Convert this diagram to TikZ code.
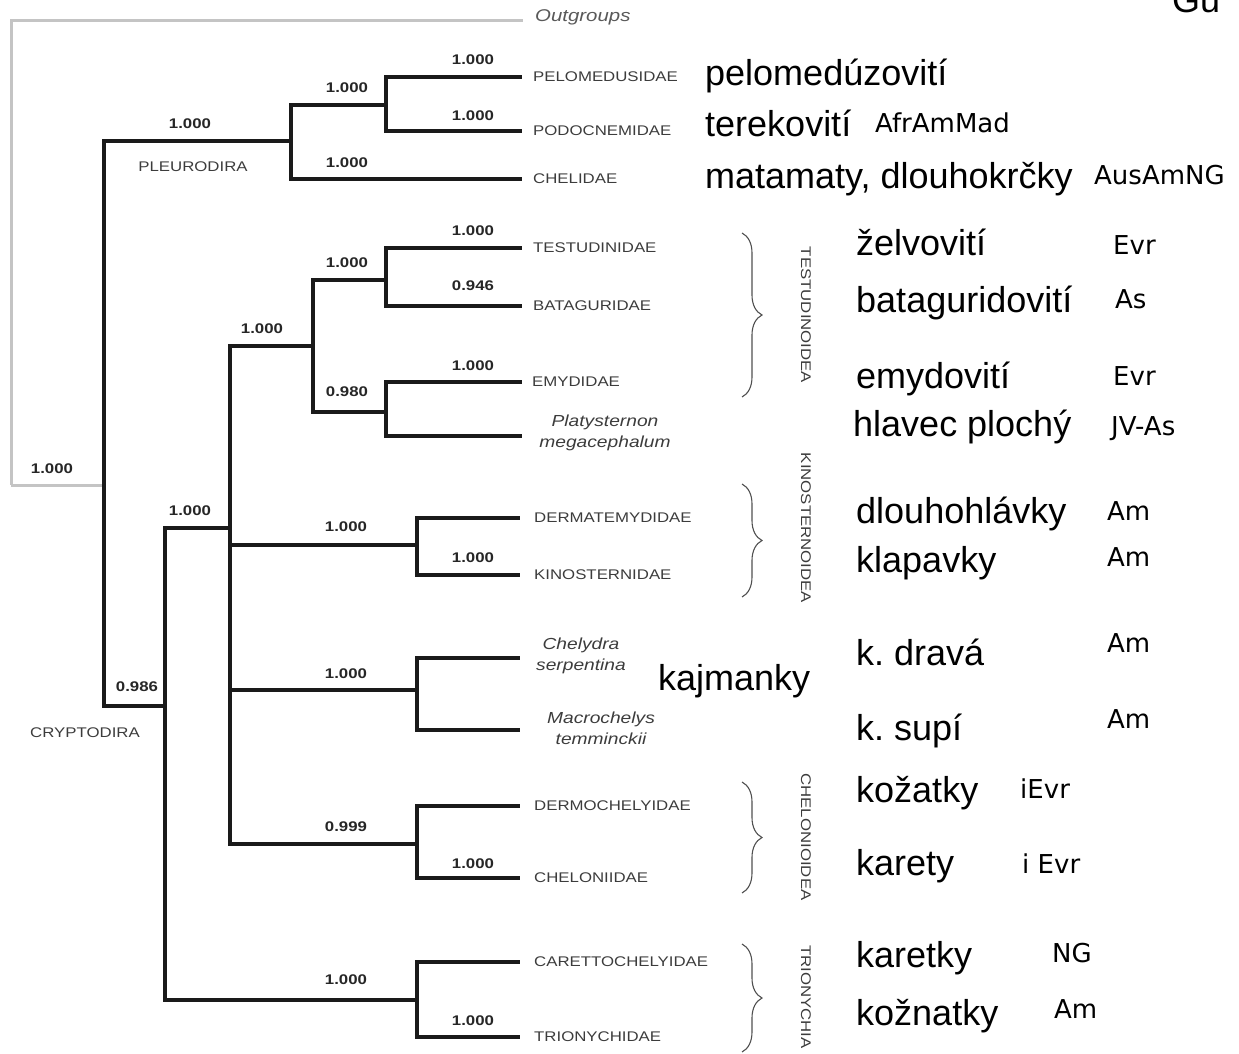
\documentclass[tikz,border=0pt]{standalone}
\usepackage{fontspec}
\setmainfont{Liberation Sans}
\newfontfamily\treefont[FakeStretch=1.2]{Liberation Sans}
\newfontfamily\regfont{DejaVu Sans}
\usetikzlibrary{decorations.pathreplacing}
\definecolor{lineblack}{HTML}{1A1A1A}
\definecolor{outgray}{HTML}{C4C4C4}
\definecolor{labgray}{HTML}{3C3C3C}
\definecolor{numgray}{HTML}{262626}
\definecolor{bracegray}{HTML}{505050}
\frenchspacing
\begin{document}
\begin{tikzpicture}[x=1pt,y=-1pt,
  edge/.style={line width=3.3pt, draw=lineblack, line join=miter},
  outedge/.style={line width=3pt, draw=outgray, line join=miter},
  leaf/.style={anchor=west, inner sep=0pt, font=\treefont\fontsize{14}{16}\selectfont, text=labgray},
  sp/.style={align=center, inner sep=0pt, font=\treefont\itshape\fontsize{16}{21}\selectfont, text=labgray},
  num/.style={inner sep=0pt, font=\treefont\bfseries\fontsize{14}{16}\selectfont, text=numgray},
  clade/.style={inner sep=0pt, font=\treefont\fontsize{14}{16}\selectfont, text=labgray},
  grp/.style={rotate=-90, inner sep=0pt, font=\treefont\fontsize{14}{16}\selectfont, text=labgray},
  cz/.style={anchor=base west, inner sep=0pt, font=\fontsize{36}{40}\selectfont, text=black},
  reg/.style={anchor=base west, inner sep=0pt, font=\regfont\fontsize{26}{29}\selectfont, text=black},
  brc/.style={decorate, decoration={brace, amplitude=20pt}, draw=bracegray, line width=1.1pt}
]
\useasboundingbox (0,0) rectangle (1239,1054);

% internal nodes
\coordinate (R0) at (11,485);
\coordinate (I) at (104,485);
\coordinate (Pl) at (291,141);
\coordinate (PP) at (386,105);
\coordinate (Cr) at (165,706);
\coordinate (C1) at (230,528);
\coordinate (Te) at (313,346);
\coordinate (TB) at (386,280);
\coordinate (EP) at (386,412);
\coordinate (Ki) at (417,545);
\coordinate (Cy) at (417,690);
\coordinate (Co) at (417,844);
\coordinate (Tr) at (417,1000);

% leaf ends
\coordinate (OG) at (523,21);
\coordinate (lPel) at (522,77);
\coordinate (lPod) at (522,131);
\coordinate (lChe) at (522,179);
\coordinate (lTes) at (522,248);
\coordinate (lBat) at (522,306);
\coordinate (lEmy) at (522,382);
\coordinate (lPla) at (522,436);
\coordinate (lDer) at (520,518);
\coordinate (lKin) at (520,575);
\coordinate (lChy) at (520,658);
\coordinate (lMac) at (520,730);
\coordinate (lDmc) at (520,806);
\coordinate (lChn) at (520,878);
\coordinate (lCar) at (520,962);
\coordinate (lTri) at (520,1037);

% outgroup (gray)
\draw[outedge] (R0) |- (OG);
\draw[outedge] (R0) -- (I);

% ingroup tree
\draw[edge] (I) |- (Pl);
\draw[edge] (I) |- (Cr);
\draw[edge] (Pl) |- (PP);
\draw[edge] (Pl) |- (lChe);
\draw[edge] (PP) |- (lPel);
\draw[edge] (PP) |- (lPod);
\draw[edge] (Cr) |- (C1);
\draw[edge] (Cr) |- (Tr);
\draw[edge] (C1) |- (Te);
\draw[edge] (C1) |- (Ki);
\draw[edge] (C1) |- (Cy);
\draw[edge] (C1) |- (Co);
\draw[edge] (Te) |- (TB);
\draw[edge] (Te) |- (EP);
\draw[edge] (TB) |- (lTes);
\draw[edge] (TB) |- (lBat);
\draw[edge] (EP) |- (lEmy);
\draw[edge] (EP) |- (lPla);
\draw[edge] (Ki) |- (lDer);
\draw[edge] (Ki) |- (lKin);
\draw[edge] (Cy) |- (lChy);
\draw[edge] (Cy) |- (lMac);
\draw[edge] (Co) |- (lDmc);
\draw[edge] (Co) |- (lChn);
\draw[edge] (Tr) |- (lCar);
\draw[edge] (Tr) |- (lTri);

% leaf labels
\node[leaf, font=\treefont\itshape\fontsize{17}{19}\selectfont, text=black!65] (tOG) at (535,17) {Outgroups};
\node[leaf] (tPel) at (533,77) {PELOMEDUSIDAE};
\node[leaf] (tPod) at (533,131) {PODOCNEMIDAE};
\node[leaf] (tChe) at (533,179) {CHELIDAE};
\node[leaf] (tTes) at (533,248) {TESTUDINIDAE};
\node[leaf] (tBat) at (533,306) {BATAGURIDAE};
\node[leaf] (tEmy) at (532,382) {EMYDIDAE};
\node[sp] (tPla) at (605,433) {Platysternon\\megacephalum};
\node[leaf] (tDer) at (534,518) {DERMATEMYDIDAE};
\node[leaf] (tKin) at (534,575) {KINOSTERNIDAE};
\node[sp] (tChy) at (581,656) {Chelydra\\serpentina};
\node[sp] (tMac) at (601,728) {Macrochelys\\temminckii};
\node[leaf] (tDmc) at (534,806) {DERMOCHELYIDAE};
\node[leaf] (tChn) at (534,878) {CHELONIIDAE};
\node[leaf] (tCar) at (534,962) {CARETTOCHELYIDAE};
\node[leaf] (tTri) at (534,1037) {TRIONYCHIDAE};

% clade names
\node[clade] (cPl) at (193,167) {PLEURODIRA};
\node[clade] (cCr) at (85,733) {CRYPTODIRA};

% support values
\node[num] (n1) at (52,469) {1.000};
\node[num] (n2) at (190,124) {1.000};
\node[num] (n3) at (347,88) {1.000};
\node[num] (n4) at (473,60) {1.000};
\node[num] (n5) at (473,116) {1.000};
\node[num] (n6) at (347,163) {1.000};
\node[num] (n7) at (137,687) {0.986};
\node[num] (n8) at (190,511) {1.000};
\node[num] (n9) at (346,980) {1.000};
\node[num] (n10) at (262,329) {1.000};
\node[num] (n11) at (346,527) {1.000};
\node[num] (n12) at (346,674) {1.000};
\node[num] (n13) at (346,827) {0.999};
\node[num] (n14) at (347,263) {1.000};
\node[num] (n15) at (347,392) {0.980};
\node[num] (n16) at (473,231) {1.000};
\node[num] (n17) at (473,286) {0.946};
\node[num] (n18) at (473,366) {1.000};
\node[num] (n19) at (473,558) {1.000};
\node[num] (n20) at (473,864) {1.000};
\node[num] (n21) at (473,1021) {1.000};

% braces and group names
\coordinate (b1t) at (742,233); \coordinate (b1b) at (742,397);
\coordinate (b2t) at (742,484); \coordinate (b2b) at (742,597);
\coordinate (b3t) at (742,782); \coordinate (b3b) at (742,893);
\coordinate (b4t) at (742,944); \coordinate (b4b) at (742,1052);
\draw[brc] (b1t) -- (b1b);
\draw[brc] (b2t) -- (b2b);
\draw[brc] (b3t) -- (b3b);
\draw[brc] (b4t) -- (b4b);
\node[grp] (g1) at (806,315) {TESTUDINOIDEA};
\node[grp] (g2) at (806,528) {KINOSTERNOIDEA};
\node[grp] (g3) at (806,837) {CHELONIOIDEA};
\node[grp] (g4) at (806,997) {TRIONYCHIA};

% Czech names
\node[cz] (z1) at (705,86) {pelomedúzovití};
\node[cz] (z2) at (705,136) {terekovití};
\node[cz] (z3) at (705,188) {matamaty, dlouhokrčky};
\node[cz] (z4) at (856,255) {želvovití};
\node[cz] (z5) at (856,312) {bataguridovití};
\node[cz] (z6) at (856,388) {emydovití};
\node[cz] (z7) at (853,436) {hlavec plochý};
\node[cz] (z8) at (856,523) {dlouhohlávky};
\node[cz] (z9) at (856,572) {klapavky};
\node[cz] (z10) at (658,690) {kajmanky};
\node[cz] (z11) at (856,665) {k. dravá};
\node[cz] (z12) at (856,740) {k. supí};
\node[cz] (z13) at (856,802) {kožatky};
\node[cz] (z14) at (856,875) {karety};
\node[cz] (z15) at (856,967) {karetky};
\node[cz] (z16) at (856,1025) {kožnatky};
\node[cz] (zG) at (1172,13) {Gu};

% distribution
\node[reg] (r1) at (875,132) {AfrAmMad};
\node[reg] (r2) at (1094,184) {AusAmNG};
\node[reg] (r3) at (1113,254) {Evr};
\node[reg] (r4) at (1115,308) {As};
\node[reg] (r5) at (1113,385) {Evr};
\node[reg] (r6) at (1111,435) {JV-As};
\node[reg] (r7) at (1107,520) {Am};
\node[reg] (r8) at (1107,566) {Am};
\node[reg] (r9) at (1107,652) {Am};
\node[reg] (r10) at (1107,728) {Am};
\node[reg] (r11) at (1020,798) {iEvr};
\node[reg] (r12) at (1022,873) {i Evr};
\node[reg] (r13) at (1052,962) {NG};
\node[reg] (r14) at (1054,1018) {Am};
\end{tikzpicture}
\end{document}
